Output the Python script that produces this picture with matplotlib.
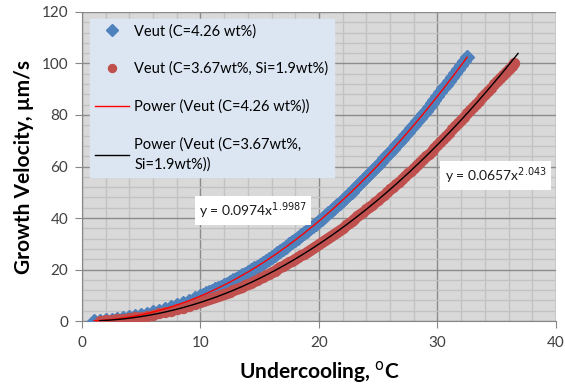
import matplotlib
matplotlib.use("Agg")
import matplotlib.pyplot as plt
import numpy as np
from matplotlib.ticker import MultipleLocator

plt.rcParams['font.family'] = ['Lato', 'DejaVu Sans']

# Measured growth velocity vs undercooling, alloy 1 (C=4.26 wt%)
x_a = [1.0, 1.5, 2.0, 2.5, 3.0, 3.5, 4.0, 4.5, 5.0, 5.5, 6.0, 6.5, 7.0, 7.5, 8.0,
       8.5, 9.0, 9.5, 10.0, 10.25, 10.5, 10.75, 11.0, 11.25, 11.5, 11.75, 12.0,
       12.25, 12.5, 12.75, 13.0, 13.25, 13.5, 13.75, 14.0, 14.25, 14.5, 14.75,
       15.0, 15.25, 15.5, 15.75, 16.0, 16.25, 16.5, 16.75, 17.0, 17.25, 17.5,
       17.75, 18.0, 18.25, 18.5, 18.75, 19.0, 19.25, 19.5, 19.75, 20.0, 20.25,
       20.5, 20.75, 21.0, 21.25, 21.5, 21.75, 22.0, 22.25, 22.5, 22.75, 23.0,
       23.25, 23.5, 23.75, 24.0, 24.25, 24.5, 24.75, 25.0, 25.25, 25.5, 25.75,
       26.0, 26.25, 26.5, 26.75, 27.0, 27.25, 27.5, 27.75, 28.0, 28.25, 28.5,
       28.75, 29.0, 29.25, 29.5, 29.75, 30.0, 30.25, 30.5, 30.75, 31.0, 31.25,
       31.5, 31.75, 32.0, 32.25, 32.5]
y_a = [0.1, 0.22, 0.39, 0.61, 0.88, 1.19, 1.56, 1.97, 2.43, 2.94, 3.5, 4.11, 4.77,
       5.47, 6.23, 7.03, 7.88, 8.78, 9.72, 10.20, 10.71, 11.22, 11.75, 12.29,
       12.84, 13.41, 13.98, 14.57, 15.17, 15.78, 16.41, 17.05, 17.70, 18.36,
       19.03, 19.72, 20.42, 21.13, 21.85, 22.58, 23.33, 24.09, 24.86, 25.64,
       26.44, 27.24, 28.06, 28.89, 29.74, 30.59, 31.46, 32.34, 33.23, 34.14,
       35.05, 35.98, 36.92, 37.87, 38.84, 39.82, 40.81, 41.81, 42.82, 43.85,
       44.88, 45.93, 47.00, 48.07, 49.16, 50.26, 51.37, 52.49, 53.62, 54.77,
       55.93, 57.10, 58.28, 59.48, 60.69, 61.91, 63.14, 64.38, 65.64, 66.91,
       68.19, 69.48, 70.79, 72.10, 73.43, 74.77, 76.13, 77.49, 78.87, 80.26,
       81.66, 83.08, 84.50, 85.94, 87.39, 88.85, 90.33, 91.81, 93.31, 94.82,
       96.35, 97.88, 99.43, 100.99, 102.56]

# Alloy 2 (C=3.67 wt%, Si=1.9 wt%)
x_b = [1.5, 2.0, 2.5, 3.0, 3.5, 4.0, 4.5, 5.0, 5.5, 6.0, 6.5, 7.0, 7.5, 8.0, 8.5,
       9.0, 9.5, 10.0, 10.25, 10.5, 10.75, 11.0, 11.25, 11.5, 11.75, 12.0, 12.25,
       12.5, 12.75, 13.0, 13.25, 13.5, 13.75, 14.0, 14.25, 14.5, 14.75, 15.0,
       15.25, 15.5, 15.75, 16.0, 16.25, 16.5, 16.75, 17.0, 17.25, 17.5, 17.75,
       18.0, 18.25, 18.5, 18.75, 19.0, 19.25, 19.5, 19.75, 20.0, 20.25, 20.5,
       20.75, 21.0, 21.25, 21.5, 21.75, 22.0, 22.25, 22.5, 22.75, 23.0, 23.25,
       23.5, 23.75, 24.0, 24.25, 24.5, 24.75, 25.0, 25.25, 25.5, 25.75, 26.0,
       26.25, 26.5, 26.75, 27.0, 27.25, 27.5, 27.75, 28.0, 28.25, 28.5, 28.75,
       29.0, 29.25, 29.5, 29.75, 30.0, 30.25, 30.5, 30.75, 31.0, 31.25, 31.5,
       31.75, 32.0, 32.25, 32.5, 32.75, 33.0, 33.25, 33.5, 33.75, 34.0, 34.25,
       34.5, 34.75, 35.0, 35.25, 35.5, 35.75, 36.0, 36.25, 36.5]
y_b = [0.15, 0.27, 0.43, 0.62, 0.85, 1.12, 1.42, 1.76, 2.14, 2.55, 3.01, 3.50,
       4.03, 4.60, 5.20, 5.85, 6.53, 7.25, 7.63, 8.01, 8.41, 8.81, 9.23, 9.65,
       10.08, 10.5, 10.95, 11.4, 11.9, 12.4, 12.9, 13.4, 13.9, 14.4, 14.95, 15.5,
       16.05, 16.6, 17.2, 17.8, 18.4, 19.0, 19.6, 20.2, 20.85, 21.5, 22.15, 22.8,
       23.45, 24.1, 24.8, 25.5, 26.2, 26.9, 27.65, 28.4, 29.15, 29.9, 30.65,
       31.4, 32.2, 33.0, 33.85, 34.7, 35.5, 36.3, 37.15, 38.0, 38.9, 39.8, 40.65,
       41.5, 42.45, 43.4, 44.3, 45.2, 46.15, 47.1, 48.1, 49.1, 50.1, 51.1, 52.1,
       53.1, 54.15, 55.2, 56.25, 57.3, 58.35, 59.4, 60.5, 61.6, 62.75, 63.9,
       65.05, 66.2, 67.35, 68.5, 69.65, 70.8, 72.0, 73.2, 74.4, 75.6, 76.85,
       78.1, 79.35, 80.6, 81.85, 83.1, 84.35, 85.6, 86.85, 88.1, 89.35, 90.6,
       91.85, 93.1, 94.35, 95.6, 96.8, 98.0, 99.1, 100.2]

# Power-law fit coefficients y = a * x^b
fit_a = (0.0974, 1.9987)
fit_b = (0.0657, 2.043)

label_a = "Veut (C=4.26 wt%)"
label_b = "Veut (C=3.67wt%, Si=1.9wt%)"
label_fa = "Power (Veut (C=4.26 wt%))"
label_fb = "Power (Veut (C=3.67wt%,\nSi=1.9wt%))"

fig = plt.figure(figsize=(5.65, 3.85), dpi=100)
ax = fig.add_axes([0.145, 0.166, 0.839, 0.803])
ax.set_facecolor('#d9d9d9')

ax.set_xlim(0, 40)
ax.set_ylim(0, 120)
ax.xaxis.set_major_locator(MultipleLocator(10))
ax.xaxis.set_minor_locator(MultipleLocator(2))
ax.yaxis.set_major_locator(MultipleLocator(20))
ax.yaxis.set_minor_locator(MultipleLocator(4))
ax.grid(which='minor', color='#c2c2c2', linewidth=1.0, zorder=0)
ax.grid(which='major', color='#8c8c8c', linewidth=1.0, zorder=0)
ax.set_axisbelow(True)

for s in ['top', 'right']:
    ax.spines[s].set_visible(False)
for s in ['left', 'bottom']:
    ax.spines[s].set_color('#868686')
ax.tick_params(which='major', direction='out', length=5, color='#868686',
               labelsize=11, labelcolor='#404040')
ax.tick_params(which='minor', length=0)
ax.tick_params(axis='x', pad=6)
ax.tick_params(axis='y', pad=5)

ha = ax.plot(x_a, y_a, linestyle='none', marker='D', markersize=7.5,
             color='#4f81bd', markeredgecolor='#4f81bd', zorder=3)[0]
hb = ax.plot(x_b, y_b, linestyle='none', marker='o', markersize=7.2,
             color='#c0504d', markeredgecolor='#c0504d', zorder=3)[0]

xa_fit = np.linspace(min(x_a), max(x_a), 200)
xb_fit = np.linspace(min(x_b), max(x_b) + 0.3, 200)
hfa = ax.plot(xa_fit, fit_a[0] * xa_fit ** fit_a[1], color='#ff0000', lw=1.0, zorder=4)[0]
hfb = ax.plot(xb_fit, fit_b[0] * xb_fit ** fit_b[1], color='#000000', lw=1.0, zorder=4)[0]

leg = ax.legend([ha, hb, hfa, hfb], [label_a, label_b, label_fa, label_fb],
                loc='upper left', bbox_to_anchor=(0.017, 0.977), fontsize=10.5,
                frameon=True, fancybox=False, labelspacing=1.6,
                handlelength=2.3, borderpad=0.35, handletextpad=0.4,
                borderaxespad=0, markerscale=0.8)
leg.get_frame().set_facecolor('#dce6f2')
leg.get_frame().set_edgecolor('#dce6f2')
leg.get_frame().set_alpha(1.0)
leg.get_texts()[-1].set_linespacing(1.5)

box = dict(facecolor='white', edgecolor='none', pad=3)
ax.text(9.9, 40.8, r"y = 0.0974x$^{1.9987}$", fontsize=10, color='#1a1a1a',
        bbox=box, zorder=5)
ax.text(30.6, 54.4, r"y = 0.0657x$^{2.043}$", fontsize=10, color='#1a1a1a',
        bbox=box, zorder=5)

ax.set_xlabel("Undercooling, $^{\\mathrm{o}}$C", fontsize=15, fontweight='bold',
              color='#000000', labelpad=6)
ax.set_ylabel("Growth Velocity, µm/s", fontsize=15, fontweight='bold',
              color='#000000', labelpad=5)

fig.savefig("out.png", dpi=100)
